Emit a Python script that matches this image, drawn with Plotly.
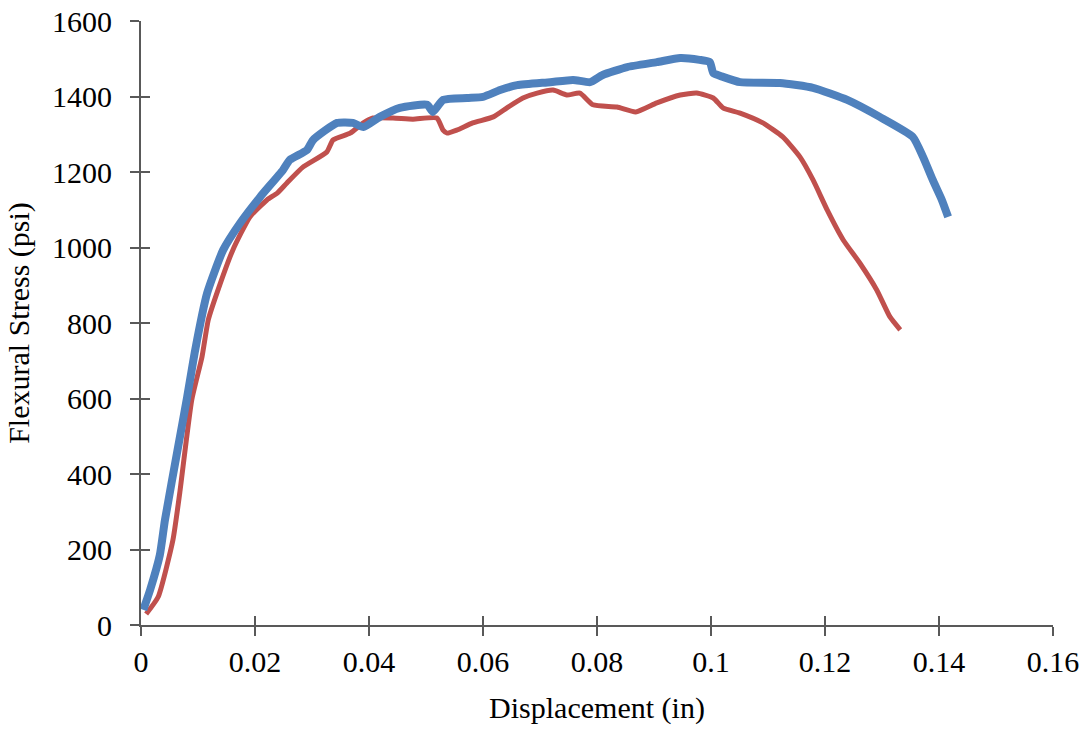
import plotly.graph_objects as go

# Specimen 1 (red)
red_x = [0.0009, 0.0030, 0.0056, 0.0068, 0.0089, 0.0107, 0.0118, 0.0135, 0.0161, 0.0191,
         0.0221, 0.0239, 0.0256, 0.0284, 0.0326, 0.0337, 0.0367, 0.0390, 0.0407, 0.0442,
         0.0477, 0.0519, 0.0530, 0.0537, 0.0554, 0.0582, 0.0618, 0.0642, 0.0670, 0.0695,
         0.0723, 0.0747, 0.0770, 0.0793, 0.0835, 0.0868, 0.0905, 0.0946, 0.0975, 0.1004,
         0.1021, 0.1051, 0.1091, 0.1126, 0.1156, 0.1179, 0.1204, 0.1232, 0.1261, 0.1291,
         0.1314, 0.1332]
red_y = [29, 74, 225, 350, 596, 710, 808, 887, 993, 1081,
         1126, 1144, 1171, 1213, 1253, 1285, 1303, 1330, 1343, 1343,
         1340, 1343, 1311, 1303, 1311, 1330, 1346, 1370, 1396, 1409,
         1417, 1404, 1409, 1378, 1372, 1359, 1383, 1404, 1409, 1396,
         1370, 1356, 1330, 1293, 1240, 1179, 1099, 1020, 959, 887,
         816, 782]

# Specimen 2 (blue)
blue_x = [0.0004, 0.0016, 0.0033, 0.0042, 0.0065, 0.0081, 0.0095, 0.0116, 0.0144,
          0.0174, 0.0209, 0.0249, 0.0261, 0.0291, 0.0302, 0.0344, 0.0372, 0.0390, 0.0419,
          0.0454, 0.0502, 0.0512, 0.0530, 0.0572, 0.0600, 0.0630, 0.0660, 0.0718, 0.0758,
          0.0788, 0.0810, 0.0853, 0.0905, 0.0946, 0.0980, 0.0998, 0.1004, 0.1021, 0.1051,
          0.1121, 0.1179, 0.1239, 0.1296, 0.1354, 0.1372, 0.1389, 0.1405, 0.1416]
blue_y = [40, 93, 185, 278, 471, 604, 728, 879, 993,
          1065, 1134, 1205, 1232, 1258, 1285, 1330, 1330, 1319, 1346,
          1370, 1378, 1359, 1391, 1396, 1399, 1417, 1430, 1438, 1444,
          1438, 1457, 1478, 1491, 1502, 1497, 1491, 1462, 1452, 1438,
          1436, 1423, 1391, 1346, 1293, 1240, 1179, 1126, 1081]

x_ticks = [0, 0.02, 0.04, 0.06, 0.08, 0.1, 0.12, 0.14, 0.16]
x_tick_labels = ["0", "0.02", "0.04", "0.06", "0.08", "0.1", "0.12", "0.14", "0.16"]
y_ticks = [0, 200, 400, 600, 800, 1000, 1200, 1400, 1600]

RED = "#C0504D"
BLUE = "#4F81BD"
AX = "#595959"
FONT = "Liberation Serif, Times New Roman, serif"

fig = go.Figure()
fig.add_trace(go.Scatter(x=red_x, y=red_y, mode="lines",
                         line=dict(color=RED, width=5, shape="spline", smoothing=0.5),
                         showlegend=False))
fig.add_trace(go.Scatter(x=blue_x, y=blue_y, mode="lines",
                         line=dict(color=BLUE, width=8, shape="spline", smoothing=0.5),
                         showlegend=False))
# empty trace to realise the overlay axes used for crossing tick marks
fig.add_trace(go.Scatter(x=[None], y=[None], xaxis="x2", yaxis="y2",
                         mode="lines", showlegend=False, hoverinfo="skip"))

common = dict(showgrid=False, zeroline=False, tickcolor=AX, tickwidth=2, ticklen=9,
              automargin=False)

fig.update_layout(
    width=1089, height=730,
    margin=dict(l=141, r=36, t=21, b=105),
    paper_bgcolor="white", plot_bgcolor="white",
    font=dict(family=FONT, size=30, color="black"),
    xaxis=dict(range=[0, 0.16], tickvals=x_ticks, ticktext=x_tick_labels,
               ticks="outside", showline=True, linecolor=AX, linewidth=2,
               title=dict(text="Displacement (in)", font=dict(size=30), standoff=20),
               tickfont=dict(size=30), **common),
    yaxis=dict(range=[0, 1600], tickvals=y_ticks,
               ticks="outside", showline=True, linecolor=AX, linewidth=2,
               title=dict(text="Flexural Stress (psi)", font=dict(size=30), standoff=14),
               tickfont=dict(size=30), ticklabelstandoff=12, **common),
    xaxis2=dict(range=[0, 0.16], tickvals=x_ticks, overlaying="x", anchor="y2",
                ticks="inside", showticklabels=False, showline=False, **common),
    yaxis2=dict(range=[0, 1600], tickvals=y_ticks, overlaying="y", anchor="x2",
                ticks="inside", showticklabels=False, showline=False, **common),
)

fig.write_html("out.html")
